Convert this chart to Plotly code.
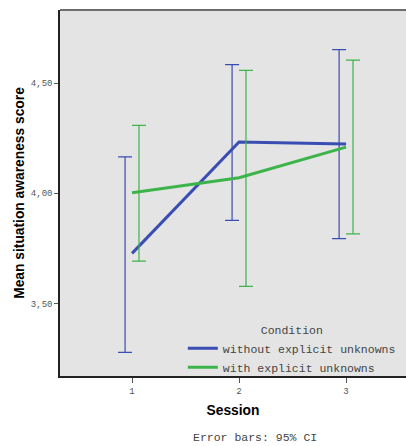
import plotly.graph_objects as go
import numpy as np

sessions = [1, 2, 3]
series_names = ["without explicit unknowns", "with explicit unknowns"]
mean_without = [3.727, 4.233, 4.224]
upper_without = [4.166, 4.585, 4.653]
lower_without = [3.277, 3.877, 3.794]
mean_with = [4.003, 4.071, 4.210]
upper_with = [4.309, 4.559, 4.605]
lower_with = [3.692, 3.577, 3.816]
y_ticks = [3.5, 4.0, 4.5]
y_tick_labels = ["3,50", "4,00", "4,50"]

colors = ["#3a4db3", "#3cb44a"]
dodge = [-0.065, 0.065]
mono = "Liberation Mono"

fig = go.Figure()
data = [
    (mean_without, upper_without, lower_without),
    (mean_with, upper_with, lower_with),
]
for i, (m, u, l) in enumerate(data):
    m = np.array(m); u = np.array(u); l = np.array(l)
    fig.add_trace(go.Scatter(
        x=sessions, y=m, mode="lines", name=series_names[i],
        line=dict(color=colors[i], width=3), showlegend=True,
    ))
    fig.add_trace(go.Scatter(
        x=np.array(sessions) + dodge[i], y=m, mode="markers",
        marker=dict(size=0.1, color=colors[i]), showlegend=False,
        error_y=dict(type="data", symmetric=False, array=u - m, arrayminus=m - l,
                     color=colors[i], thickness=1.2, width=7),
        hoverinfo="skip",
    ))

fig.update_layout(
    width=406, height=446,
    margin=dict(l=60, r=0, t=10, b=70),
    paper_bgcolor="white", plot_bgcolor="#e4e4e4",
    font=dict(family=mono, color="#555555"),
    legend=dict(
        x=0.355, xanchor="left", y=-0.016, yanchor="bottom",
        bgcolor="rgba(0,0,0,0)",
        font=dict(family=mono, size=11.5, color="#444444"),
        title=dict(text="Condition", side="top center",
                   font=dict(family=mono, size=11.5, color="#444444")),
        itemwidth=30, tracegroupgap=0,
    ),
    xaxis=dict(
        range=[0.327, 3.56], tickvals=sessions, ticktext=[str(s) for s in sessions],
        showgrid=False, zeroline=False, showline=True, linecolor="#222222", linewidth=1.5,
        ticks="outside", ticklen=5, tickcolor="#555555",
        tickfont=dict(family=mono, size=9, color="#555555"),
        title=dict(text="<b>Session</b>", standoff=10,
                   font=dict(family="Liberation Sans", size=13.8, color="black")),
    ),
    yaxis=dict(
        range=[3.170, 4.833], tickvals=y_ticks, ticktext=y_tick_labels,
        showgrid=False, zeroline=False, showline=True, linecolor="#222222", linewidth=1.5,
        ticks="outside", ticklen=4, tickcolor="#555555",
        tickfont=dict(family=mono, size=9, color="#555555"),
        title=dict(text="<b>Mean situation awareness score</b>", standoff=3,
                   font=dict(family="Liberation Sans", size=13.8, color="black")),
    ),
    shapes=[dict(type="line", xref="paper", yref="paper", x0=0, x1=1, y0=1, y1=1,
                 line=dict(color="#6e6e6e", width=2))],
    annotations=[dict(text="Error bars: 95% CI", xref="paper", yref="paper",
                      x=0.5636, y=-0.1667, xanchor="center", yanchor="middle",
                      showarrow=False, font=dict(family=mono, size=11.5, color="#444444"))],
)

fig.write_html("out.html")
